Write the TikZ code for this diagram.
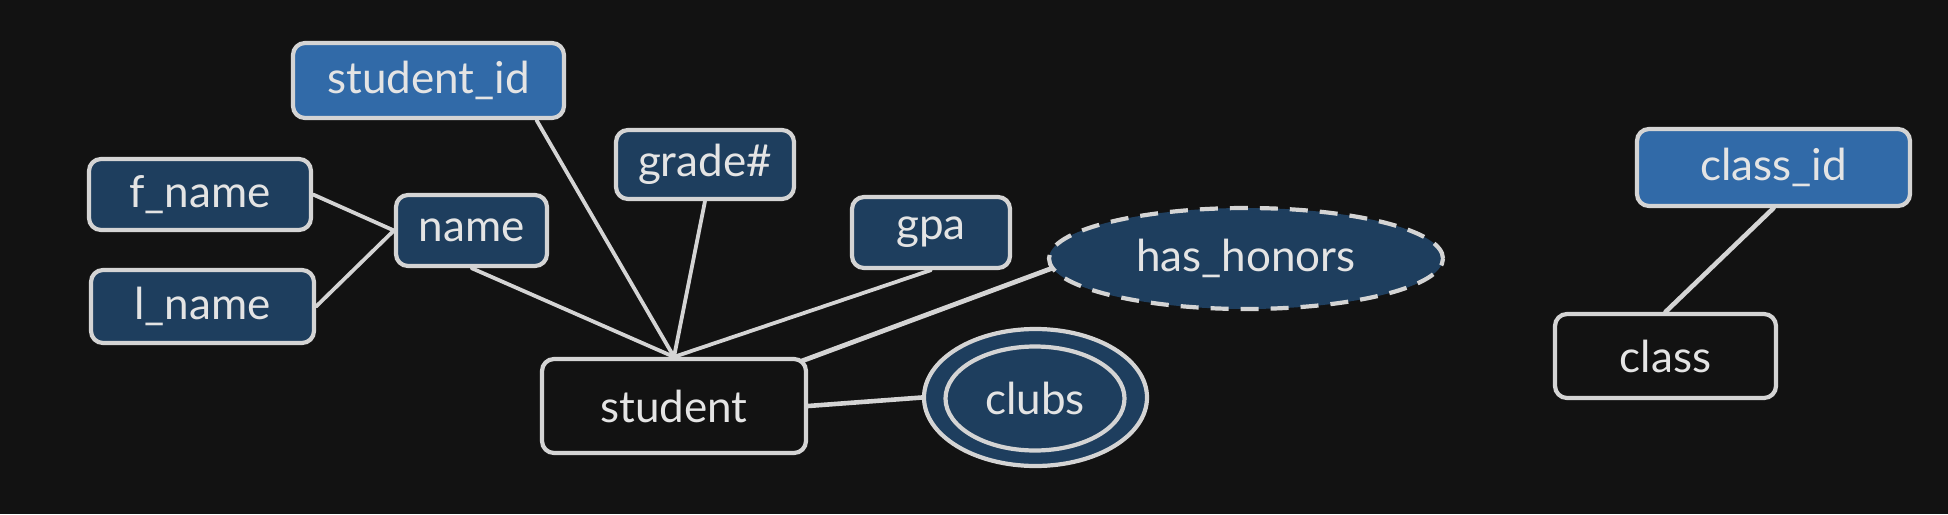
\documentclass[tikz,border=0pt]{standalone}
\usepackage{fontspec}
\setmainfont{Lato}
\usetikzlibrary{shapes.geometric}
\definecolor{bg}{HTML}{121212}
\definecolor{darkfill}{HTML}{1E3E5E}
\definecolor{keyfill}{HTML}{316AA8}
\definecolor{ink}{HTML}{D4D4D4}
\definecolor{txt}{HTML}{E4E4E4}
\tikzset{
  box/.style={rectangle, rounded corners=12pt, draw=ink, line width=4.2pt, text=txt,
    font=\fontsize{44}{50}\selectfont, inner sep=0pt},
  attr/.style={box, fill=darkfill},
  keyattr/.style={box, fill=keyfill},
  entity/.style={box, fill=bg},
  oval/.style={ellipse, draw=ink, line width=4.2pt, text=txt, fill=darkfill,
    font=\fontsize{44}{50}\selectfont, inner sep=0pt},
  conn/.style={draw=ink, line width=3.8pt, line cap=round}
}
\begin{document}
\begin{tikzpicture}[x=1pt,y=-1pt]
\fill[bg] (0,0) rectangle (1948,514);
\useasboundingbox (0,0) rectangle (1948,514);

\node[keyattr, minimum width=271pt, minimum height=75pt] (studentid) at (428.5,80.5) {student\_id};
\node[attr, minimum width=222pt, minimum height=71pt] (fname) at (200,194.5) {f\_name};
\node[attr, minimum width=223pt, minimum height=73pt] (lname) at (202.5,306.5) {l\_name};
\node[attr, minimum width=151pt, minimum height=71pt] (name) at (471.5,230.5) {name};
\node[attr, minimum width=178pt, minimum height=69pt] (grade) at (705,164.5) {grade\#};
\node[attr, minimum width=158pt, minimum height=71pt] (gpa) at (931,232.5) {gpa};
\node[oval, dashed, dash pattern=on 18pt off 12pt, minimum width=394pt, minimum height=101pt] (honors) at (1246,258.5) {has\_honors};
\node[entity, minimum width=264pt, minimum height=94pt] (student) at (674,406) {student};
\node[oval, minimum width=223pt, minimum height=137pt] (clubsout) at (1035.5,397.5) {};
\node[oval, fill=none, minimum width=179pt, minimum height=104pt] (clubs) at (1035,398.5) {clubs};
\node[keyattr, minimum width=273pt, minimum height=77pt] (classid) at (1773.5,167.5) {class\_id};
\node[entity, minimum width=221pt, minimum height=84pt] (class) at (1665.5,356) {class};

\draw[conn] (fname.east) -- (name.west);
\draw[conn] (lname.east) -- (name.west);
\draw[conn] (name.south) -- (student.north);
\draw[conn] ([xshift=108pt]studentid.south) -- (student.north);
\draw[conn] (grade.south) -- (student.north);
\draw[conn] (gpa.south) -- (student.north);
\draw[conn, line width=4.8pt] ([xshift=-6pt,yshift=-4pt]student.north east) -- (honors.183);
\draw[conn, line width=4.6pt] (student.east) -- (clubsout.west);
\draw[conn, line width=4.6pt] (classid.south) -- (class.north);
\end{tikzpicture}
\end{document}
